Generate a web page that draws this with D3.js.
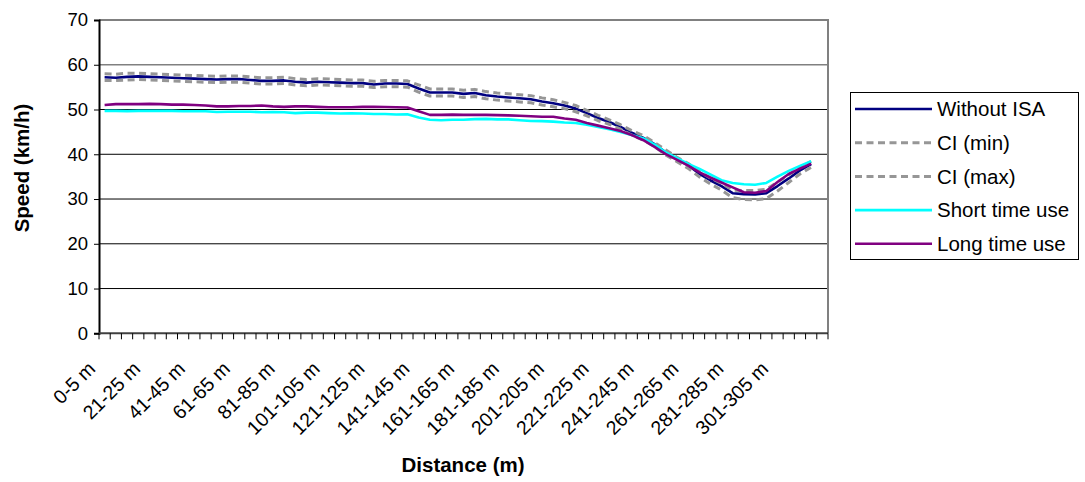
<!DOCTYPE html>
<html>
<head>
<meta charset="utf-8">
<script src="https://cdn.jsdelivr.net/npm/d3@7"></script>
<style>
  html, body { margin: 0; padding: 0; background: #fff; }
  svg { display: block; font-family: "Liberation Sans", Arial, sans-serif; }
</style>
</head>
<body>
<svg id="chart" width="1085" height="482"></svg>
<script>
// Distance intervals along the approach (5 m bins)
const categories = [
  "0-5 m","6-10 m","11-15 m","16-20 m","21-25 m","26-30 m","31-35 m","36-40 m",
  "41-45 m","46-50 m","51-55 m","56-60 m","61-65 m","66-70 m","71-75 m","76-80 m",
  "81-85 m","86-90 m","91-95 m","96-100 m","101-105 m","106-110 m","111-115 m","116-120 m",
  "121-125 m","126-130 m","131-135 m","136-140 m","141-145 m","146-150 m","151-155 m","156-160 m",
  "161-165 m","166-170 m","171-175 m","176-180 m","181-185 m","186-190 m","191-195 m","196-200 m",
  "201-205 m","206-210 m","211-215 m","216-220 m","221-225 m","226-230 m","231-235 m","236-240 m",
  "241-245 m","246-250 m","251-255 m","256-260 m","261-265 m","266-270 m","271-275 m","276-280 m",
  "281-285 m","286-290 m","291-295 m","296-300 m","301-305 m","306-310 m","311-315 m","316-320 m",
  "321-325 m"
];

// Category labels printed under the axis
const tickLabels = [
  "0-5 m","21-25 m","41-45 m","61-65 m","81-85 m","101-105 m","121-125 m","141-145 m",
  "161-165 m","181-185 m","201-205 m","221-225 m","241-245 m","261-265 m","281-285 m","301-305 m"
];

const yTicks = [0, 10, 20, 30, 40, 50, 60, 70];

// Mean speeds (km/h) per interval
const withoutISA = [
  57.2,57.1,57.3,57.4,57.3,57.2,57.1,57.0,56.9,56.8,56.7,56.8,56.8,56.6,56.4,56.4,
  56.5,56.2,56.0,56.2,56.1,56.0,55.9,55.9,55.6,55.8,55.8,55.7,54.7,53.8,53.8,53.8,
  53.5,53.7,53.2,52.9,52.7,52.5,52.3,51.8,51.4,50.9,50.2,49.2,48.1,47.2,46.1,44.8,
  43.7,42.3,40.5,39.0,37.6,35.7,34.2,32.9,31.3,31.1,31.0,31.3,32.9,34.6,36.4,37.8
];
const ciMin = [
  56.5,56.5,56.6,56.7,56.6,56.5,56.4,56.3,56.2,56.1,56.0,56.1,56.1,55.9,55.7,55.7,
  55.8,55.5,55.3,55.5,55.4,55.3,55.2,55.2,54.9,55.1,55.1,55.0,53.9,53.0,53.0,53.0,
  52.7,52.9,52.4,52.1,51.9,51.7,51.5,51.0,50.6,50.2,49.5,48.6,47.5,46.7,45.6,44.3,
  43.2,41.8,39.9,38.4,36.9,35.0,33.4,32.0,30.3,29.9,29.8,30.1,31.8,33.7,35.6,37.1
];
const ciMax = [
  58.0,57.9,58.1,58.1,58.0,57.9,57.8,57.7,57.6,57.5,57.4,57.5,57.5,57.3,57.1,57.1,
  57.2,56.9,56.7,56.9,56.8,56.7,56.6,56.6,56.3,56.5,56.5,56.4,55.5,54.6,54.6,54.6,
  54.3,54.5,54.0,53.7,53.5,53.3,53.1,52.6,52.2,51.6,50.9,49.8,48.7,47.7,46.6,45.3,
  44.2,42.7,41.0,39.4,38.0,36.2,34.7,33.5,32.0,31.9,31.9,32.2,33.8,35.4,37.1,38.4
];
const shortTimeUse = [
  49.7,49.7,49.65,49.7,49.7,49.7,49.7,49.6,49.6,49.6,49.45,49.5,49.5,49.5,49.4,49.45,
  49.4,49.2,49.3,49.3,49.2,49.1,49.15,49.1,49.0,49.0,48.9,48.95,48.2,47.7,47.6,47.7,
  47.7,47.85,47.9,47.8,47.8,47.6,47.45,47.4,47.3,47.1,47.0,46.6,46.1,45.6,45.0,44.3,
  43.6,42.2,40.5,39.2,37.9,36.8,35.5,34.2,33.6,33.3,33.2,33.6,35.0,36.3,37.4,38.45
];
const longTimeUse = [
  51.0,51.2,51.2,51.2,51.25,51.2,51.1,51.1,51.0,50.9,50.7,50.7,50.8,50.8,50.9,50.7,
  50.6,50.7,50.7,50.6,50.5,50.5,50.5,50.6,50.6,50.55,50.5,50.45,49.6,48.8,48.8,48.85,
  48.8,48.8,48.8,48.75,48.7,48.6,48.5,48.4,48.4,48.0,47.7,47.0,46.4,45.8,45.2,44.3,
  43.2,41.7,40.1,38.8,37.5,36.0,34.8,33.7,32.6,31.5,31.4,31.8,33.8,35.6,36.8,37.9
];

const series = [
  { name: "Without ISA",    values: withoutISA,   color: "#000080", width: 2.6, dash: null },
  { name: "CI (min)",       values: ciMin,        color: "#969696", width: 3,   dash: "7,4.5" },
  { name: "CI (max)",       values: ciMax,        color: "#969696", width: 3,   dash: "7,4.5" },
  { name: "Short time use", values: shortTimeUse, color: "#00FFFF", width: 2.6, dash: null },
  { name: "Long time use",  values: longTimeUse,  color: "#800080", width: 2.6, dash: null }
];

const svg = d3.select("#chart");
const plot = { left: 99, right: 828, top: 20, bottom: 333.3 };

const x = d3.scaleBand().domain(categories).range([plot.left, plot.right]).padding(0);
const y = d3.scaleLinear().domain([0, 70]).range([plot.bottom, plot.top]);
const cx = c => x(c) + x.bandwidth() / 2;

// horizontal gridlines
svg.append("g").selectAll("line")
  .data(yTicks.filter(t => t > 0 && t < 70))
  .join("line")
  .attr("x1", plot.left).attr("x2", plot.right)
  .attr("y1", d => y(d)).attr("y2", d => y(d))
  .attr("stroke", d => d === 60 ? "#808080" : "#000")
  .attr("stroke-width", d => d === 60 ? 1.6 : 1);

// plot area frame (top & right)
svg.append("path")
  .attr("d", `M${plot.left},${plot.top}H${plot.right}V${plot.bottom}`)
  .attr("fill", "none").attr("stroke", "#808080").attr("stroke-width", 2);

// y axis
const yAxis = svg.append("g")
  .attr("transform", `translate(${plot.left},0)`)
  .call(d3.axisLeft(y).tickValues(yTicks).tickSize(5).tickPadding(6));
yAxis.select(".domain").attr("stroke", "#000").attr("stroke-width", 2);
yAxis.selectAll(".tick line").attr("stroke", "#000");
yAxis.selectAll(".tick text").attr("font-size", 18.5).attr("fill", "#000")
  .attr("font-family", "Liberation Sans, Arial, sans-serif");

// x axis: ticks at category boundaries
const xg = svg.append("g");
xg.append("line")
  .attr("x1", plot.left).attr("x2", plot.right)
  .attr("y1", plot.bottom).attr("y2", plot.bottom)
  .attr("stroke", "#404040").attr("stroke-width", 2);
const boundaries = categories.map(c => x(c)).concat([plot.right]);
xg.selectAll("line.tk").data(boundaries).join("line").attr("class", "tk")
  .attr("x1", d => d).attr("x2", d => d)
  .attr("y1", plot.bottom).attr("y2", plot.bottom + 6)
  .attr("stroke", "#000").attr("stroke-width", 1);

xg.selectAll("text.lbl").data(tickLabels).join("text").attr("class", "lbl")
  .attr("transform", d => `translate(${cx(d) - 8},${370}) rotate(-45)`)
  .attr("text-anchor", "end")
  .attr("font-size", 19.5)
  .attr("fill", "#000")
  .text(d => d);

// axis titles
svg.append("text")
  .attr("x", 463).attr("y", 472)
  .attr("text-anchor", "middle")
  .attr("font-size", 20.5).attr("font-weight", "bold")
  .text("Distance (m)");
svg.append("text")
  .attr("transform", `translate(29,168) rotate(-90)`)
  .attr("text-anchor", "middle")
  .attr("font-size", 20.5).attr("font-weight", "bold")
  .text("Speed (km/h)");

// series lines
const line = d3.line()
  .defined(d => d.v != null)
  .x(d => cx(d.c))
  .y(d => y(d.v));

svg.append("g").selectAll("path")
  .data(series)
  .join("path")
  .attr("d", s => line(s.values.map((v, i) => ({ c: categories[i], v }))))
  .attr("fill", "none")
  .attr("stroke", s => s.color)
  .attr("stroke-width", s => s.width)
  .attr("stroke-dasharray", s => s.dash)
  .attr("stroke-linejoin", "round");

// legend
const lg = svg.append("g");
lg.append("rect")
  .attr("x", 850.5).attr("y", 92.5).attr("width", 228).attr("height", 167)
  .attr("fill", "#fff").attr("stroke", "#000").attr("stroke-width", 1);
const rows = lg.selectAll("g.row").data(series).join("g").attr("class", "row")
  .attr("transform", (d, i) => `translate(0,${109 + i * 33.7})`);
rows.append("line")
  .attr("x1", 855).attr("x2", 932).attr("y1", 0).attr("y2", 0)
  .attr("stroke", d => d.color)
  .attr("stroke-width", d => d.width)
  .attr("stroke-dasharray", d => d.dash);
rows.append("text")
  .attr("x", 937).attr("y", 0).attr("dy", "0.35em")
  .attr("font-size", 20.5)
  .attr("fill", "#000")
  .text(d => d.name);
</script>
</body>
</html>
